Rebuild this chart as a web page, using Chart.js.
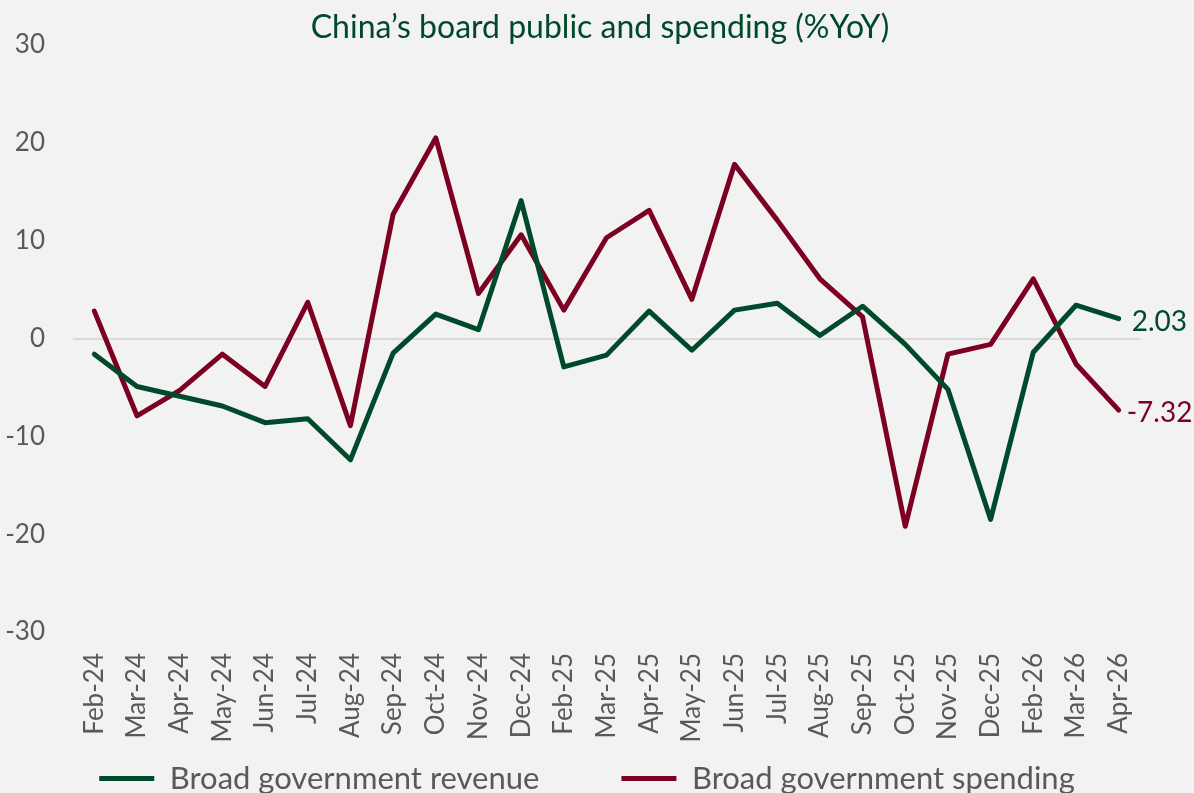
<!DOCTYPE html>
<html>
<head>
<meta charset="utf-8">
<script src="https://cdn.jsdelivr.net/npm/chart.js@4"></script>
<style>
  html, body { margin: 0; padding: 0; background: #f2f2f2; overflow: hidden; }
  #wrap { width: 1194px; height: 804px; }
</style>
</head>
<body>
<div id="wrap"><canvas id="chart"></canvas></div>
<script>
const months = ['Feb-24', 'Mar-24', 'Apr-24', 'May-24', 'Jun-24', 'Jul-24', 'Aug-24', 'Sep-24', 'Oct-24', 'Nov-24', 'Dec-24',
    'Feb-25', 'Mar-25', 'Apr-25', 'May-25', 'Jun-25', 'Jul-25', 'Aug-25', 'Sep-25', 'Oct-25', 'Nov-25', 'Dec-25',
    'Feb-26', 'Mar-26', 'Apr-26'];
const revenue = [-1.6, -4.9, -5.9, -6.9, -8.6, -8.2, -12.4, -1.5, 2.5, 0.9, 14.1,
    -2.9, -1.7, 2.8, -1.2, 2.9, 3.6, 0.3, 3.3, -0.6, -5.2, -18.5,
    -1.4, 3.4, 2.03];
const spending = [2.8, -7.9, -5.3, -1.6, -4.9, 3.7, -8.9, 12.7, 20.5, 4.6, 10.6,
    2.9, 10.3, 13.1, 4.0, 17.8, 12.1, 6.1, 2.2, -19.2, -1.6, -0.6,
    6.1, -2.6, -7.32];
const yMin = -30, yMax = 30, yStep = 10;

const GREEN = '#004a2b';
const RED = '#7c0022';
const GREY = '#595959';
const FONT = 'Lato, "Open Sans", sans-serif';

// label the last value of each line, right of the end point
const endLabels = {
    id: 'endLabels',
    afterDatasetsDraw(chart) {
        const ctx = chart.ctx;
        ctx.save();
        ctx.font = '28px ' + FONT;
        ctx.textBaseline = 'middle';
        ctx.textAlign = 'left';
        chart.data.datasets.forEach((ds, i) => {
            const pts = chart.getDatasetMeta(i).data;
            const p = pts[pts.length - 1];
            const v = ds.data[ds.data.length - 1];
            ctx.fillStyle = ds.borderColor;
            ctx.fillText(v.toFixed(2), p.x + (v < 0 ? 8 : 13), p.y + 3);
        });
        ctx.restore();
    }
};

// small layout nudges: let month labels hang below the axis box,
// and centre title/legend on the page rather than the padded area
const nudge = {
    id: 'nudge',
    afterLayout(chart) {
        chart.scales.x.bottom = chart.height;
        chart.titleBlock.left += 30;
        chart.titleBlock.right += 30;
        chart.legend.left += 17;
        chart.legend.right += 17;
    }
};

const ctx = document.getElementById('chart').getContext('2d');
new Chart(ctx, {
    type: 'line',
    data: {
        labels: months,
        datasets: [{
            label: 'Broad government revenue',
            data: revenue,
            borderColor: GREEN,
            backgroundColor: GREEN,
            borderWidth: 5,
            borderCapStyle: 'round',
            borderJoinStyle: 'round',
            pointRadius: 0,
            tension: 0
        }, {
            label: 'Broad government spending',
            data: spending,
            borderColor: RED,
            backgroundColor: RED,
            borderWidth: 5,
            borderCapStyle: 'round',
            borderJoinStyle: 'round',
            pointRadius: 0,
            tension: 0
        }]
    },
    options: {
        responsive: true,
        maintainAspectRatio: false,
        animation: false,
        layout: { padding: { left: 0, right: 54, top: 0, bottom: 0 } },
        plugins: {
            title: {
                display: true,
                text: 'China\u2019s board public and spending (%YoY)',
                color: GREEN,
                font: { family: FONT, size: 32, weight: 'normal', lineHeight: 1 },
                padding: { top: 12, bottom: 1 }
            },
            legend: {
                position: 'bottom',
                labels: {
                    usePointStyle: true,
                    pointStyle: 'line',
                    pointStyleWidth: 55,
                    color: GREY,
                    font: { family: FONT, size: 31 },
                    padding: 82
                }
            },
            tooltip: { enabled: false }
        },
        scales: {
            x: {
                offset: true,
                grid: { display: false },
                border: { display: false },
                afterFit: axis => { axis.height = 49; },
                ticks: {
                    color: GREY,
                    font: { family: FONT, size: 26 },
                    autoSkip: false,
                    minRotation: 90,
                    maxRotation: 90,
                    padding: 13
                }
            },
            y: {
                min: yMin,
                max: yMax,
                border: { display: false },
                afterFit: axis => { axis.width = 73; },
                grid: {
                    drawTicks: false,
                    lineWidth: 2,
                    color: c => c.tick && c.tick.value === 0 ? '#d9d9d9' : 'rgba(0,0,0,0)'
                },
                ticks: {
                    stepSize: yStep,
                    color: GREY,
                    font: { family: FONT, size: 26 },
                    padding: 28
                }
            }
        }
    },
    plugins: [endLabels, nudge]
});
</script>
</body>
</html>
